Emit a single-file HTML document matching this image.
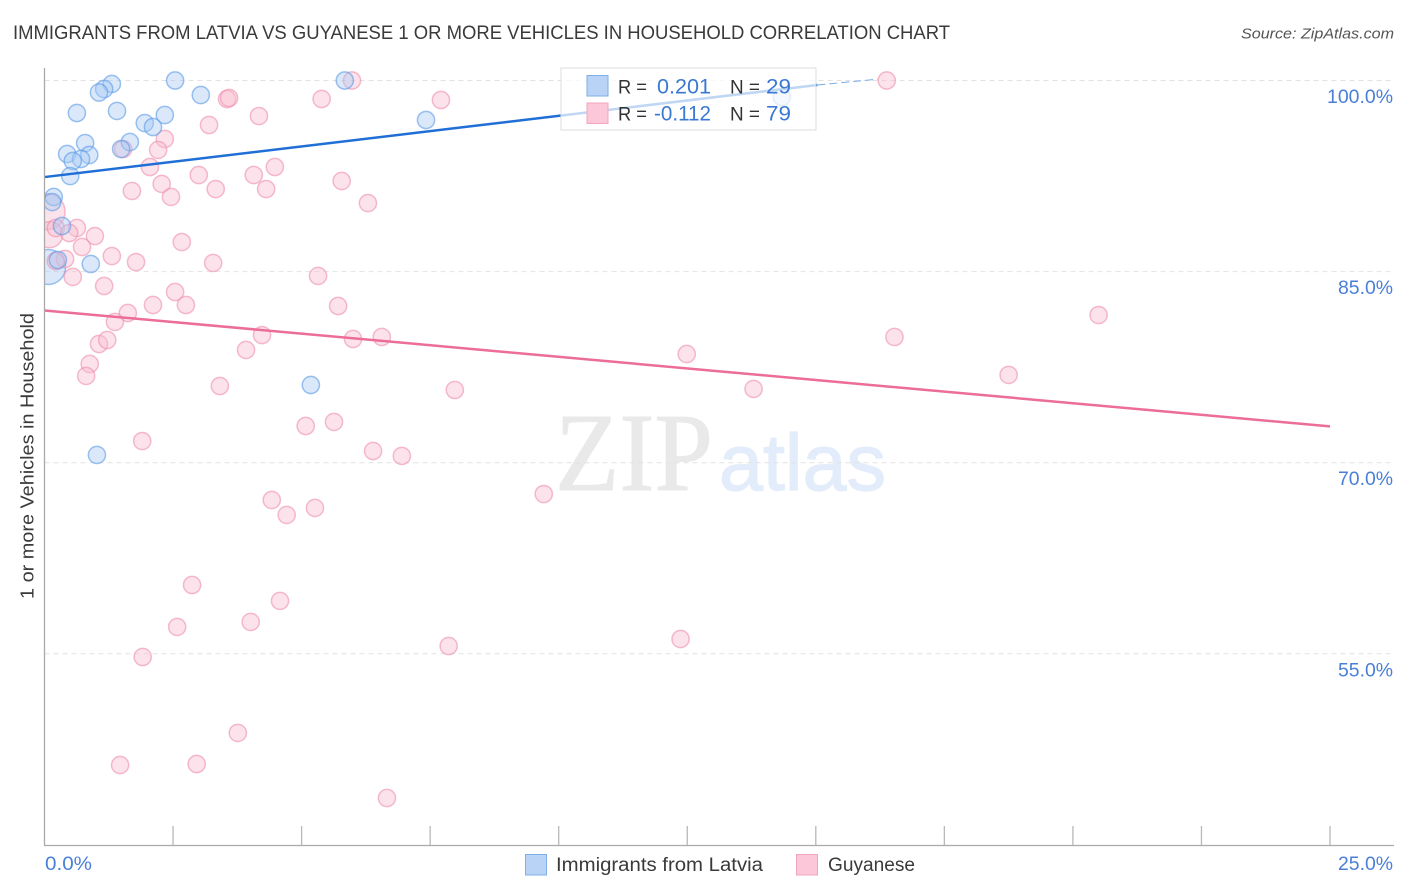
<!DOCTYPE html>
<html>
<head>
<meta charset="utf-8">
<title>Immigrants from Latvia vs Guyanese chart</title>
<style>
html,body{margin:0;padding:0;background:#fff;width:1406px;height:892px;overflow:hidden}
svg{display:block;font-family:"Liberation Sans",sans-serif}
</style>
</head>
<body>
<svg id="chart" width="1406" height="892" viewBox="0 0 1406 892" xmlns="http://www.w3.org/2000/svg">
  <defs><clipPath id="plot-clip"><rect x="44.5" y="60" width="1350" height="785"/></clipPath></defs>
  <text x="13" y="39" font-size="19" fill="#3a3a3a" textLength="937" lengthAdjust="spacingAndGlyphs">IMMIGRANTS FROM LATVIA VS GUYANESE 1 OR MORE VEHICLES IN HOUSEHOLD CORRELATION CHART</text>
  <text x="1241" y="38.500" font-size="15" font-style="italic" fill="#555" textLength="153" lengthAdjust="spacingAndGlyphs">Source: ZipAtlas.com</text>
  <g>
    <text x="555" y="490" font-family="'Liberation Serif',serif" font-size="111" fill="#e9e9e9" stroke="#e9e9e9" stroke-width="1" textLength="158" lengthAdjust="spacingAndGlyphs">ZIP</text>
    <text x="719" y="490" font-size="80" fill="#e3ecfa" stroke="#e3ecfa" stroke-width="1.2" textLength="167" lengthAdjust="spacingAndGlyphs">atlas</text>
  </g>
  <g id="grid"></g>
  <g id="points" clip-path="url(#plot-clip)"></g>
  <g id="trends"></g>
  <g id="axes"></g>
  <text transform="translate(33.500,456) rotate(-90)" text-anchor="middle" font-size="18.500" fill="#3a3a3a" textLength="286" lengthAdjust="spacingAndGlyphs">1 or more Vehicles in Household</text>

  <g>
    <rect x="561" y="68" width="255" height="62" fill="#fff" fill-opacity="0.72" stroke="#dcdcdc" stroke-width="1"/>
    <rect x="587" y="75.500" width="21" height="20.500" fill="#b9d3f7" stroke="#7eaee8"/>
    <rect x="587" y="103" width="21" height="20.500" fill="#fcc7d8" stroke="#f3a5bf"/>
    <text x="618" y="93.500" font-size="19" fill="#333" textLength="29" lengthAdjust="spacingAndGlyphs">R =</text>
    <text x="657" y="93.500" font-size="21" fill="#3a78d4" textLength="54" lengthAdjust="spacingAndGlyphs">0.201</text>
    <text x="730" y="93.500" font-size="19" fill="#333" textLength="30" lengthAdjust="spacingAndGlyphs">N =</text>
    <text x="766" y="93.500" font-size="21" fill="#3a78d4" textLength="25" lengthAdjust="spacingAndGlyphs">29</text>
    <text x="618" y="120.500" font-size="19" fill="#333" textLength="29" lengthAdjust="spacingAndGlyphs">R =</text>
    <text x="654" y="120.500" font-size="21" fill="#3a78d4" textLength="57" lengthAdjust="spacingAndGlyphs">-0.112</text>
    <text x="730" y="120.500" font-size="19" fill="#333" textLength="30" lengthAdjust="spacingAndGlyphs">N =</text>
    <text x="766" y="120.500" font-size="21" fill="#3a78d4" textLength="25" lengthAdjust="spacingAndGlyphs">79</text>
  </g>

  <g>
    <g>
      <rect x="525.500" y="854.500" width="21" height="20.500" fill="#b9d3f7" stroke="#7eaee8"/>
      <text x="556" y="871" font-size="19" fill="#3a3a3a" textLength="207" lengthAdjust="spacingAndGlyphs">Immigrants from Latvia</text>
    </g>
    <g>
      <rect x="796.500" y="854.500" width="21" height="20.500" fill="#fcc7d8" stroke="#f3a5bf"/>
      <text x="828" y="871" font-size="19" fill="#3a3a3a" textLength="87" lengthAdjust="spacingAndGlyphs">Guyanese</text>
    </g>
  </g>
</svg>
<script>
// Chart values (x and y in percent)
const latviaX = [2.54,5.84,1.31,1.16,1.06,3.04,1.41,0.63,2.34,7.42,1.95,2.11,0.79,1.66,1.49,0.44,0.87,0.71,0.55,0.50,0.18,0.15,0.34,0.26,0.90,5.18,1.02,14.34];
const latviaY = [100,100,99.73,99.33,99.06,98.86,97.61,97.45,97.29,96.90,96.66,96.35,95.09,95.17,94.62,94.23,94.15,93.84,93.68,92.50,90.86,90.46,88.58,85.91,85.60,76.10,70.61,98.70];
const guyaneseX = [3.55,3.59,4.17,3.20,2.34,2.21,1.53,2.05,3.00,4.07,4.48,4.31,3.33,2.28,1.70,2.46,0.22,0.63,0.48,0.98,0.73,0.40,0.22,1.31,1.78,2.67,3.28,0.55,1.16,2.54,2.11,2.75,5.32,5.39,7.71,5.98,16.38,5.78,6.29,20.50,5.71,1.62,1.37,1.06,1.22,0.88,0.81,3.92,4.23,6.00,6.56,16.53,12.49,3.41,7.98,13.79,18.75,5.08,5.63,1.90,6.39,6.95,9.71,4.42,4.71,5.26,2.87,4.58,2.58,4.01,1.91,7.86,12.37,3.76,1.47,2.96,6.66];
const guyaneseY = [98.55,98.63,97.21,96.51,95.41,94.55,94.62,93.21,92.58,92.58,93.21,91.48,91.48,91.88,91.33,90.86,88.42,88.42,88.03,87.79,86.93,85.99,85.83,86.22,85.75,87.32,85.68,84.58,83.87,83.40,82.38,82.38,84.66,98.55,98.47,100,100,92.11,90.38,81.59,82.30,81.75,81.05,79.32,79.63,77.75,76.81,78.85,80.02,79.71,79.87,79.87,78.53,76.02,75.71,75.79,76.89,72.88,73.20,71.70,70.92,70.53,67.54,67.07,65.90,66.45,60.40,59.15,57.11,57.50,54.75,55.61,56.16,48.79,46.27,46.35,43.68];
// Heavily weighted points, drawn with larger markers
const latviaLargeX = [0.07];
const latviaLargeY = [85.36];
const guyaneseLargeX = [0.05];
const guyaneseLargeY = [89.70];
const guyaneseMediumX = [0.10];
const guyaneseMediumY = [87.90];
// Regression lines: solid part, then dashed extension for Latvia
const latviaTrendX = [0, 15.03];
const latviaTrendY = [92.42, 99.65];
const latviaTrendExtX = [15.03, 16.2];
const latviaTrendExtY = [99.65, 100.1];
const guyaneseTrendX = [0, 25];
const guyaneseTrendY = [81.95, 72.85];
// Tick labels and values
const yTickValues = [100, 85, 70, 55];
const yTickLabels = ['100.0%', '85.0%', '70.0%', '55.0%'];
const xTickValues = [0, 2.5, 5, 7.5, 10, 12.5, 15, 17.5, 20, 22.5, 25];
const xEndLabels = ['0.0%', '25.0%'];

const xScale = v => 44.5 + v * 51.42;
const yScale = v => 80.5 + (100 - v) * 12.74;
const NS = 'http://www.w3.org/2000/svg';
const mk = (parent, tag, attrs) => {
  const el = document.createElementNS(NS, tag);
  for (const k in attrs) el.setAttribute(k, attrs[k]);
  parent.appendChild(el);
  return el;
};
const gridG = document.getElementById('grid');
const pointsG = document.getElementById('points');
const trendsG = document.getElementById('trends');
const axesG = document.getElementById('axes');

yTickValues.forEach((v, i) => {
  const line = mk(gridG, 'line', {x1: 44.5, x2: 1393, y1: yScale(v), y2: yScale(v), stroke: '#e2e2e2', 'stroke-width': 1, 'stroke-dasharray': '5 4'});
  
  
  const t = mk(axesG, 'text', {x: 1393, y: yScale(v) + 22.5, 'text-anchor': 'end', 'font-size': 19, fill: '#4a7fd8', textLength: yTickLabels[i].length * 11, lengthAdjust: 'spacingAndGlyphs'});
  t.textContent = yTickLabels[i];
  
  
});

function drawPoints(xs, ys, r, fill, stroke) {
  xs.forEach((x, i) => {
    const c = mk(pointsG, 'circle', {cx: xScale(x), cy: yScale(ys[i]), r: r, fill: fill, 'fill-opacity': 0.42, stroke: stroke, 'stroke-opacity': 0.6, 'stroke-width': 1.5});
    
    
  });
}
drawPoints(guyaneseLargeX, guyaneseLargeY, 18, '#f9bcd0', '#ef8fad');
drawPoints(guyaneseMediumX, guyaneseMediumY, 13, '#f9bcd0', '#ef8fad');
drawPoints(latviaLargeX, latviaLargeY, 17.5, '#a6c8f4', '#5b9be6');
drawPoints(guyaneseX, guyaneseY, 8.6, '#f9bcd0', '#ef8fad');
drawPoints(latviaX, latviaY, 8.6, '#a6c8f4', '#5b9be6');

function drawTrend(xs, ys, stroke, width, dash) {
  const l = mk(trendsG, 'line', {x1: xScale(xs[0]), y1: yScale(ys[0]), x2: xScale(xs[1]), y2: yScale(ys[1]), stroke: stroke, 'stroke-width': width});
  if (dash) l.setAttribute('stroke-dasharray', dash);
  
  
}
drawTrend(latviaTrendX, latviaTrendY, '#1f6fd6', 2.5);
drawTrend(latviaTrendExtX, latviaTrendExtY, '#7aa9e6', 1, '8 4');
drawTrend(guyaneseTrendX, guyaneseTrendY, '#ec6c9a', 2.5);

const yAxis = mk(axesG, 'line', {x1: 44.5, x2: 44.5, y1: 68, y2: 845.5, stroke: '#aaa', 'stroke-width': 1.3});


const xAxis = mk(axesG, 'line', {x1: 44, x2: 1394, y1: 845.5, y2: 845.5, stroke: '#aaa', 'stroke-width': 1.3});


xTickValues.slice(1).forEach(v => {
  const tick = mk(axesG, 'line', {x1: xScale(v), x2: xScale(v), y1: 826, y2: 845, stroke: '#b8b8b8', 'stroke-width': 1.3});
  
  
});
const xStart = mk(axesG, 'text', {x: 45, y: 870, 'font-size': 19, fill: '#4a7fd8', textLength: 47, lengthAdjust: 'spacingAndGlyphs'});
xStart.textContent = xEndLabels[0];


const xEnd = mk(axesG, 'text', {x: 1393, y: 870, 'text-anchor': 'end', 'font-size': 19, fill: '#4a7fd8', textLength: 55, lengthAdjust: 'spacingAndGlyphs'});
xEnd.textContent = xEndLabels[1];


</script>
</body>
</html>
